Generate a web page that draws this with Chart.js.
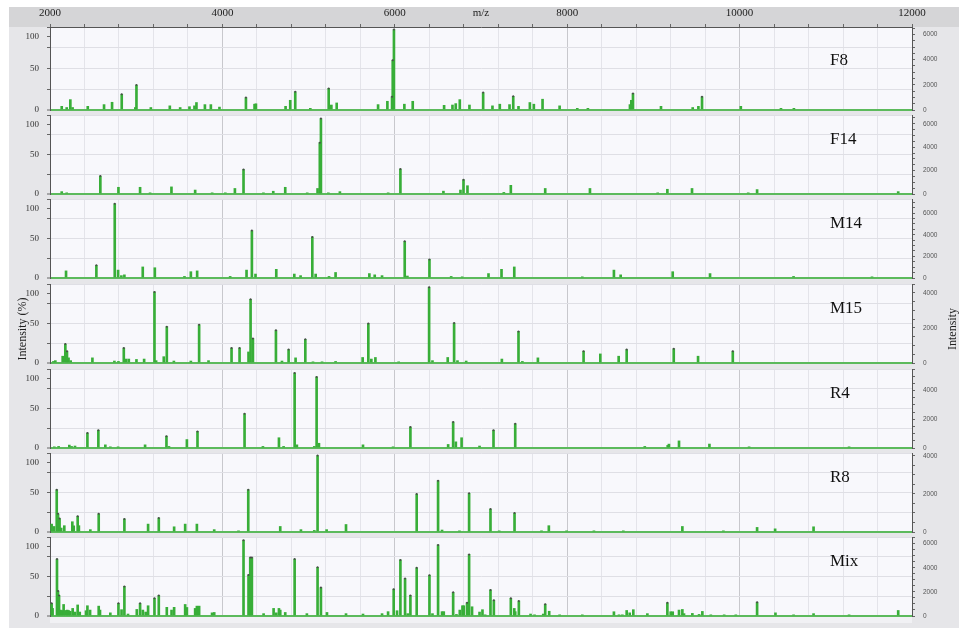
<!DOCTYPE html>
<html>
<head>
<meta charset="utf-8">
<script src="https://cdn.jsdelivr.net/npm/chart.js@4.4.1/dist/chart.umd.min.js"></script>
<style>
  body { margin: 0; background: #fff; width: 959px; height: 629px; overflow: hidden; position: relative; }
  #frame { position: absolute; left: 9px; top: 7px; width: 950px; height: 621px; background: #e6e6e9; }
  #topband { position: absolute; left: 9px; top: 7px; width: 950px; height: 20px; background: #d5d5d7; }
  #foot { position: absolute; left: 50px; top: 617px; width: 862px; height: 6px; background: #f1f1f4; }
  .panel { position: absolute; left: 9px; width: 950px; }
</style>
</head>
<body>
<div id="frame"></div>
<div id="topband"></div>
<div id="foot"></div>
<div id="panels"></div>
<script>
// spectra, m/z of each peak and relative intensity (%)
var panelNames = ['F8', 'F14', 'M14', 'M15', 'R4', 'R8', 'Mix']
var rightMax = [6600, 6750, 7300, 4500, 5500, 4150, 6550]   // intensity at the top of each panel

var f8Mz = [2136,2194,2236,2262,2438,2627,2720,2832,2990,3003,3170,3390,3510,3618,3676,3699,3797,3866,3966,4273,4373,4389,4733,4787,4845,5020,5233,5264,5326,5806,5914,5968,5976,5990,6111,6208,6572,6669,6707,6754,6866,7025,7133,7218,7331,7374,7435,7567,7613,7714,7912,8117,8240,8728,8744,8763,9088,9456,9522,9564,10014,10480,10630]
var f8Int = [4.4,3,12.5,3,4.4,6.5,9.3,19,3,30,3,5,3,4,5,9,6.5,6.5,3.5,15,7,7.5,4.4,11.7,22,2,26,6,8.5,6.5,10.5,16,60,97,7,10.5,5.6,6,7.7,12.5,6,21,5,7,6.5,16.5,4.4,9,7,13,5,2,2,6.5,11.7,20,4.4,3,4.4,16,4.4,2,2]

var f14Mz = [2136,2194,2584,2794,3045,3161,3409,3684,3881,4034,4145,4245,4476,4590,4729,4984,5104,5130,5143,5229,5363,5923,6065,6564,6762,6797,6843,7265,7346,7745,8264,9050,9162,9448,10100,10203,11840]
var f14Int = [3,1.5,22.7,8.5,8.5,1.5,9,5,1.5,1.5,7,31,1.5,3.5,8.5,1.5,7,65,95.5,1.5,3,1.5,31.6,3.6,5,18,10.5,2,11,7,7,1.5,6,7,1.5,5.6,3]

var m14Mz = [2186,2538,2751,2790,2828,2863,3076,3216,3560,3634,3707,4090,4280,4342,4384,4625,4834,4907,5043,5082,5237,5313,5705,5767,5852,6115,6146,6402,6654,6782,7087,7238,7386,8175,8542,8620,9224,9657,10626,11536]
var m14Int = [9,16,94,10,3,4,14,13,2,8,9,2,10,60,5,11,5,3,52,5,2,7,5.6,4,3,46.5,2.5,23.5,2,1.5,5.6,11,14,1.5,10,4,8,5.6,2,1.5]

var m15Mz = [2040,2062,2147,2178,2197,2215,2240,2492,2747,2794,2856,2883,2914,3003,3092,3212,3231,3320,3355,3437,3634,3730,3839,4106,4199,4303,4327,4354,4621,4691,4768,4849,4962,5051,5156,5313,5627,5693,5728,5775,6045,6398,6437,6614,6688,6727,6828,7242,7435,7480,7660,8190,8384,8597,8690,9236,9518,9921]
var m15Int = [2,3,8.6,24,15,6.5,3,6.5,2.5,2,19,5,5,4.5,5,90,3,8,46,2.5,2.5,48.5,3,19,19,14,80.6,31,41.5,2.5,17,6.5,30,1.5,1.5,2,7,50,5,7,1.5,96,3,7,50.6,3,2.5,5,40,2,6.5,15,11.5,8.6,17,18,8.6,15]

var r4Mz = [2050,2100,2224,2250,2290,2434,2561,2642,2700,2790,3103,3351,3380,3588,3711,4257,4470,4656,4710,4838,4864,5066,5093,5120,5631,5980,6181,6619,6677,6708,6775,6983,7145,7397,8900,9166,9180,9297,9650,10110,11270]
var r4Int = [1.5,2,3.7,2,2.5,19,22.5,4,1.5,1.5,4,15,2,10.7,21,43.4,2,13,2,95,4,2,90,6,4,1.5,26.6,4.5,33,7.8,13,2.5,22.5,30.7,2,3.3,4.9,9,5,1.5,1.5]

var r8Mz = [2019,2046,2078,2093,2111,2130,2166,2259,2275,2321,2335,2468,2565,2863,3138,3262,3440,3568,3704,3905,4187,4300,4671,4911,5066,5104,5209,5434,6254,6502,6548,6750,6862,7110,7211,7389,7702,7787,7993,8310,8651,9336,9812,10203,10412,10858]
var r8Int = [10,7,53.5,23,17,5,8,13,7.8,20,8,3,23,16.5,10,17.7,6.6,10,10,3,1.5,53.5,7,3,2,96.7,3,9.5,48,65,2.5,1.5,49,29,1.5,24,1.5,8,1.5,1.5,1.5,7,1.5,5.8,4,6.6]

var mixMz = [2019,2030,2081,2093,2105,2120,2140,2158,2180,2200,2215,2235,2263,2290,2321,2345,2418,2434,2465,2565,2580,2700,2794,2830,2863,2905,3007,3045,3077,3110,3138,3212,3262,3355,3410,3440,3568,3588,3684,3704,3730,3880,3905,4245,4303,4323,4342,4478,4594,4625,4656,4671,4729,4838,4980,5104,5143,5213,5434,5631,5852,5922,5987,6026,6065,6119,6150,6181,6254,6402,6437,6502,6548,6568,6677,6715,6754,6785,6800,6838,6862,6896,6983,7017,7048,7110,7149,7346,7386,7397,7439,7575,7621,7722,7745,7791,7912,8175,8542,8601,8640,8690,8725,8767,8930,9162,9201,9224,9297,9336,9355,9452,9530,9568,9666,9821,9956,10203,10416,10626,10858,11270,11840]
var mixInt = [16,9.6,72,31.7,26,7.5,7,14.6,7,7.5,7,6,9.6,5,14,5,6.7,13,7.5,12.5,7.5,4,16,8,37.5,2.5,8.3,16,7.5,5,13,22.5,26,11,7.5,11,14.6,10.8,9.6,12.5,12.5,4,4.5,96,52,74,74,3,9.6,4,9.6,7.5,4.5,72,3,61.6,36,4.5,3,2.5,3,5.5,34,6.7,71,47.5,3,26,61,51.7,3,90,5.5,5.5,30,2,7.5,13,13,16.7,78,11.7,5,8,1.5,33,20,22.5,9.6,5.5,19,2.5,1.5,2.5,15,6,1.5,1.5,5.4,1.5,1.5,7,4,8,3,16.7,5.4,5.4,7.5,8.3,3,3.3,2,5.8,1.5,1.5,1.5,17.5,4,1.5,3,1.5,7]

var peakMz = [f8Mz, f14Mz, m14Mz, m15Mz, r4Mz, r8Mz, mixMz]
var peakInt = [f8Int, f14Int, m14Int, m15Int, r4Int, r8Int, mixInt]

// axis text
var mzLabels = ['2000', '4000', '6000', '8000', '10000', '12000']
var pctLabels = ['0', '50', '100']
var pctLabelPos = [0, 50, 88]      // the reference prints "100" a little below the panel top
var pctGrid = [25, 75, 100]
var intLabels = ['0', '2000', '4000', '6000']
var intStep = 500
var markFrom = 15                  // peaks at least this tall carry a small marker on top

// layout
var panelTop = [27, 111, 195, 280, 365, 449, 533]
var panelH = 83
var axisBand = 20
var padBottom = 8
var serif = 'Liberation Serif'

var panelPlugin = {
  id: 'panelLabel',
  beforeDraw: function(chart) {
    var a = chart.chartArea
    var ctx = chart.ctx
    ctx.save()
    ctx.fillStyle = '#f8f8fc'
    ctx.fillRect(a.left, a.top, a.right - a.left, a.bottom - a.top)
    ctx.restore()
  },
  afterDraw: function(chart, args, opts) {
    var a = chart.chartArea
    var ctx = chart.ctx
    ctx.save()
    ctx.font = '17px "' + serif + '"'
    ctx.fillStyle = '#111'
    ctx.textBaseline = 'middle'
    ctx.fillText(opts.text, a.left + 780, a.top + opts.dy)
    ctx.restore()
  }
}

// the two long axis titles sit beside the M15 panel
var sideTitles = {
  id: 'sideTitles',
  afterDraw: function(chart) {
    var ctx = chart.ctx
    var spots = [[14, 'Intensity (%)'], [944, 'Intensity']]
    for (var s of spots) {
      ctx.save()
      ctx.font = '12px "' + serif + '"'
      ctx.fillStyle = '#222'
      ctx.textAlign = 'center'
      ctx.textBaseline = 'middle'
      ctx.translate(s[0], 49)
      ctx.rotate(-Math.PI / 2)
      ctx.fillText(s[1], 0, 0)
      ctx.restore()
    }
  }
}

function makePanel(i) {
  var first = (i == 0)
  var box = document.createElement('div')
  box.className = 'panel'
  box.style.top = (first ? panelTop[i] - axisBand : panelTop[i]) + 'px'
  box.style.height = (panelH + padBottom + (first ? axisBand : 0)) + 'px'
  var cv = document.createElement('canvas')
  box.appendChild(cv)
  document.getElementById('panels').appendChild(box)

  var pts = []
  var tops = []
  for (var k = 0; k < peakMz[i].length; k++) {
    pts.push({x: peakMz[i][k], y: peakInt[i][k]})
    if (peakInt[i][k] >= markFrom) tops.push({x: peakMz[i][k], y: peakInt[i][k]})
  }

  new Chart(cv, {
    type: 'bar',
    data: {
      datasets: [{
        type: 'line',
        label: 'tops',
        data: tops,
        showLine: false,
        pointRadius: 1,
        pointBorderWidth: 0,
        pointBackgroundColor: '#4a4a4a',
        yAxisID: 'y'
      }, {
        label: panelNames[i],
        data: pts,
        backgroundColor: '#38ae38',
        barThickness: 2,
        yAxisID: 'y'
      }]
    },
    options: {
      animation: false,
      responsive: true,
      maintainAspectRatio: false,
      layout: {padding: {bottom: padBottom}},
      plugins: {
        legend: {display: false},
        tooltip: {enabled: false},
        panelLabel: {text: panelNames[i], dy: first ? 34 : 25}
      },
      scales: {
        x: {
          type: 'linear',
          position: first ? 'top' : 'bottom',
          min: 2000,
          max: 12000,
          offset: false,
          ticks: {
            display: first,
            stepSize: 400,
            autoSkip: false,
            maxRotation: 0,
            padding: 4,
            color: '#222',
            font: {family: serif, size: 11},
            callback: function(v) { return mzLabels.indexOf(String(v)) >= 0 ? String(v) : '' }
          },
          grid: {
            offset: false,
            color: function(c) { return c.tick && c.tick.value % 2000 == 0 ? '#c8c8cd' : '#e4e4ea' },
            drawTicks: first,
            tickLength: 3,
            tickColor: '#666'
          },
          border: {display: first, color: '#555'},
          title: {
            display: first,
            text: 'm/z',
            color: '#222',
            font: {family: serif, size: 11},
            padding: {top: 0, bottom: 0}
          },
          afterFit: function(s) { s.height = first ? axisBand : 0 }
        },
        y: {
          position: 'left',
          min: 0,
          max: 100,
          afterBuildTicks: function(s) {
            s.ticks = pctLabelPos.concat(pctGrid).sort(function(a, b) { return a - b })
              .map(function(v) { return {value: v} })
          },
          ticks: {
            autoSkip: false,
            padding: 8,
            color: '#333',
            font: {family: serif, size: 9},
            callback: function(v) {
              var k = pctLabelPos.indexOf(v)
              return k >= 0 ? pctLabels[k] : ''
            }
          },
          grid: {
            color: function(c) {
              var v = c.tick ? c.tick.value : -1
              if (v == 0) return '#5cba5c'
              if (v == pctLabelPos[2]) return 'rgba(0,0,0,0)'
              return '#dfdfe5'
            },
            lineWidth: function(c) { return c.tick && c.tick.value == 0 ? 2 : 1 },
            tickLength: 3,
            tickWidth: 1,
            tickColor: '#666'
          },
          border: {color: '#555'},
          afterFit: function(s) { s.width = 41; s.paddingTop = 0; s.paddingBottom = 0 }
        },
        y2: {
          position: 'right',
          min: 0,
          max: rightMax[i],
          afterBuildTicks: function(s) {
            var t = []
            for (var v = 0; v <= s.max; v += intStep) t.push({value: v})
            s.ticks = t
          },
          ticks: {
            autoSkip: false,
            padding: 8,
            color: '#555',
            font: {family: 'Liberation Sans', size: 6.5},
            callback: function(v) { return intLabels.indexOf(String(v)) >= 0 ? String(v) : '' }
          },
          grid: {drawOnChartArea: false, tickLength: 3, tickColor: '#666'},
          border: {color: '#555'},
          afterFit: function(s) { s.width = 47; s.paddingTop = 0; s.paddingBottom = 0 }
        }
      }
    },
    plugins: i == 3 ? [panelPlugin, sideTitles] : [panelPlugin]
  })
}

for (var i = 0; i < panelNames.length; i++) {
  makePanel(i)
}
</script>
</body>
</html>
